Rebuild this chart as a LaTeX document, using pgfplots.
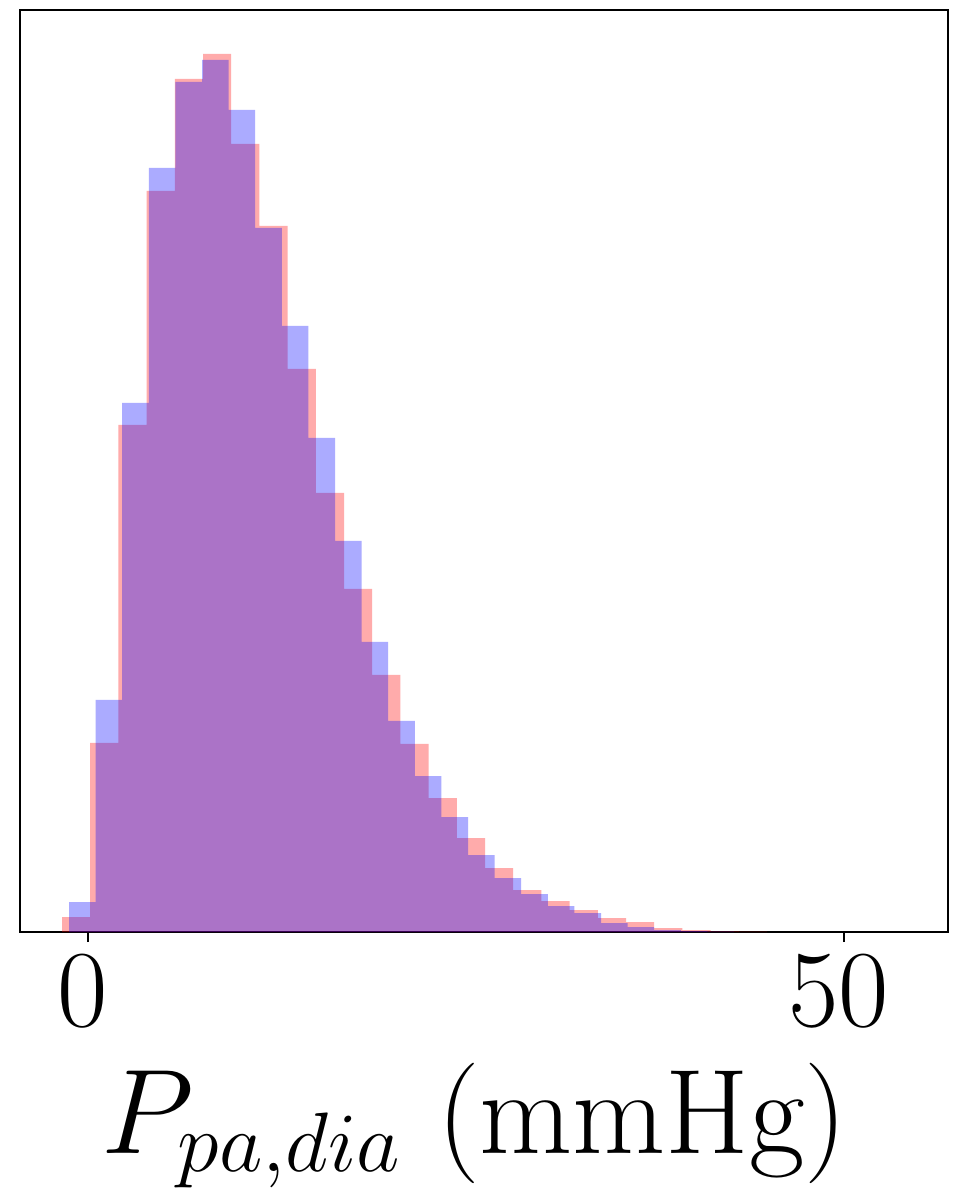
\RequirePackage{fix-cm}
\documentclass[border=0pt]{standalone}
\usepackage{pgfplots}
\pgfplotsset{compat=1.18}

% bin left edges and bar heights (the last point closes the step)
\pgfplotstableread{
x h
-1.720 15
0.145 189
2.010 507
3.876 741
5.741 853
7.606 878
9.471 788
11.336 706
13.201 563
15.066 439
16.931 343
18.796 257
20.661 188
22.526 134
24.392 94
26.257 64
28.122 42
29.987 31
31.852 22
33.717 14
35.582 10
37.447 4
39.312 2
41.177 0.7
43.042 0.5
44.908 0
}\redhist

\pgfplotstableread{
x h
-1.257 30
0.503 232
2.262 529
4.021 764
5.781 850
7.540 872
9.299 822
11.058 704
12.818 606
14.577 494
16.336 391
18.095 290
19.855 211
21.614 156
23.373 115
25.133 77
26.892 54
28.651 38
30.410 26
32.170 19
33.929 9
35.688 5
37.447 2
39.207 1
40.966 0.5
42.725 0
}\bluehist

\begin{document}
\begin{tikzpicture}
\begin{axis}[
  scale only axis, width=928bp, height=922bp,
  xmin=-4.5, xmax=56.88, ymin=0, ymax=922,
  xtick={0,50}, ytick=\empty,
  xtick pos=left, tick align=outside,
  major tick length=10bp,
  every tick/.style={black, line width=1.8bp},
  axis line style={line width=1.6bp},
  xticklabel style={font=\fontsize{110}{110}\selectfont, inner sep=0pt,
    anchor=base, yshift=-84bp, xshift=-5bp},
  xlabel={$P_{pa,dia}$ (mmHg)},
  xlabel style={font=\fontsize{121}{121}\selectfont, inner sep=0pt,
    anchor=base, at={(axis description cs:0.49,0)}, yshift=-221bp},
]
\addplot[const plot, draw=none, fill=red, fill opacity=0.33]
  table[x=x, y=h] {\redhist} \closedcycle;
\addplot[const plot, draw=none, fill=blue, fill opacity=0.33]
  table[x=x, y=h] {\bluehist} \closedcycle;
\coordinate (sw) at (rel axis cs:0,0);
\coordinate (ne) at (rel axis cs:1,1);
\end{axis}
\path ([shift={(-20bp,-267bp)}]sw) rectangle ([shift={(11bp,10bp)}]ne);
\end{tikzpicture}
\end{document}
